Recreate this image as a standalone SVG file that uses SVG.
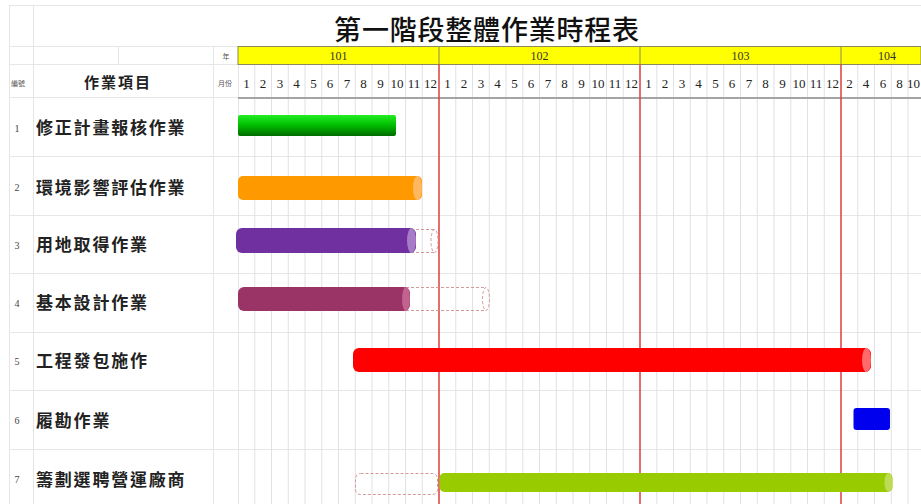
<svg xmlns="http://www.w3.org/2000/svg" width="921" height="504" viewBox="0 0 921 504">
<style>
.grid{stroke:#e0e0e8;stroke-width:1;fill:none}
.hl{stroke:#e6e6e6;stroke-width:1;fill:none}
.red{stroke:#d9403f;stroke-width:1.5;fill:none}
.mn{font-family:"Liberation Serif",serif;font-size:13px;fill:#222;text-anchor:middle}
.yr{font-family:"Liberation Serif",serif;font-size:12px;fill:#333;text-anchor:middle}
.sm{font-family:"Noto Sans CJK TC",sans-serif;font-size:7px;fill:#555;text-anchor:middle}
.num{font-family:"Liberation Serif",serif;font-size:10px;fill:#444;text-anchor:middle}
.lbl{font-family:"Noto Sans CJK TC",sans-serif;font-size:17px;font-weight:bold;letter-spacing:1.8px;fill:#222}
.dash{fill:none;stroke:#d49a9a;stroke-width:1;stroke-dasharray:3 2}
</style>
<defs>
<linearGradient id="g1" x1="0" y1="0" x2="0" y2="1">
<stop offset="0" stop-color="#22ee22"/>
<stop offset="0.5" stop-color="#00bb00"/>
<stop offset="1" stop-color="#006a00"/>
</linearGradient>
</defs>
<rect width="921" height="504" fill="#ffffff"/>
<g id="grid">
<path class="hl" d="M9 5.5H921M9 46.5H921M9 64.5H238M9 97.5H238M9 156.5H921M9 215.5H921M9 273.5H921M9 332.5H921M9 390.5H921M9 449.5H921"/>
<path class="hl" d="M9.5 5V504M33.5 5V504M118.5 46V64M213.5 46V504M238.5 46V504"/>
<path class="grid" d="M254.75 64V504M271.5 64V504M288.25 64V504M305 64V504M321.75 64V504M338.5 64V504M355.25 64V504M372 64V504M388.75 64V504M405.5 64V504M422.25 64V504M455.75 64V504M472.5 64V504M489.25 64V504M506 64V504M522.75 64V504M539.5 64V504M556.25 64V504M573 64V504M589.75 64V504M606.5 64V504M623.25 64V504M656.75 64V504M673.5 64V504M690.25 64V504M707 64V504M723.75 64V504M740.5 64V504M757.25 64V504M774 64V504M790.75 64V504M807.5 64V504M824.25 64V504M857.75 64V504M874.5 64V504M891.25 64V504M908 64V504"/>
</g>
<g id="title">
<text x="487" y="40" font-family="'Noto Sans CJK TC',sans-serif" font-size="27" font-weight="500" letter-spacing="0.8" text-anchor="middle" fill="#111">第一階段整體作業時程表</text>
</g>
<g id="year-row">
<rect x="238" y="46.5" width="683" height="18" fill="#ffff00" stroke="#8a8a5a" stroke-width="1"/>
<path d="M439 46.5V64.5M640 46.5V64.5M841 46.5V64.5" stroke="#8a8a5a" stroke-width="1"/>
<text class="sm" x="226" y="59">年</text>
<text class="yr" x="338.5" y="59.5">101</text>
<text class="yr" x="539.5" y="59.5">102</text>
<text class="yr" x="740.5" y="59.5">103</text>
<text class="yr" x="887" y="59.5">104</text>
</g>
<g id="month-row">
<text class="sm" x="18" y="86">編號</text>
<text x="118" y="88" font-family="'Noto Sans CJK TC',sans-serif" font-size="15" font-weight="bold" letter-spacing="2" text-anchor="middle" fill="#222">作業項目</text>
<text class="sm" x="225" y="86">月份</text>
<text class="mn" y="88"><tspan x="246.4">1</tspan><tspan x="263.1">2</tspan><tspan x="279.9">3</tspan><tspan x="296.6">4</tspan><tspan x="313.4">5</tspan><tspan x="330.1">6</tspan><tspan x="346.9">7</tspan><tspan x="363.6">8</tspan><tspan x="380.4">9</tspan><tspan x="397.1">10</tspan><tspan x="413.9">11</tspan><tspan x="430.6">12</tspan></text>
<text class="mn" y="88"><tspan x="447.4">1</tspan><tspan x="464.1">2</tspan><tspan x="480.9">3</tspan><tspan x="497.6">4</tspan><tspan x="514.4">5</tspan><tspan x="531.1">6</tspan><tspan x="547.9">7</tspan><tspan x="564.6">8</tspan><tspan x="581.4">9</tspan><tspan x="598.1">10</tspan><tspan x="614.9">11</tspan><tspan x="631.6">12</tspan></text>
<text class="mn" y="88"><tspan x="648.4">1</tspan><tspan x="665.1">2</tspan><tspan x="681.9">3</tspan><tspan x="698.6">4</tspan><tspan x="715.4">5</tspan><tspan x="732.1">6</tspan><tspan x="748.9">7</tspan><tspan x="765.6">8</tspan><tspan x="782.4">9</tspan><tspan x="799.1">10</tspan><tspan x="815.9">11</tspan><tspan x="832.6">12</tspan></text>
<text class="mn" y="88"><tspan x="849.4">2</tspan><tspan x="866.1">4</tspan><tspan x="882.9">6</tspan><tspan x="899.6">8</tspan><tspan x="913.5">10</tspan></text>
<path d="M238 98H921" stroke="#a4a4a4" stroke-width="2"/>
</g>
<g id="year-lines">
<path class="red" d="M439 64.5V504M640 64.5V504M841 64.5V504"/>
</g>
<g id="task1">
<text class="num" x="17" y="132">1</text>
<text class="lbl" x="36" y="134">修正計畫報核作業</text>
<rect x="238" y="115" width="158" height="21" rx="2" fill="url(#g1)"/>
</g>
<g id="task2">
<text class="num" x="17" y="191">2</text>
<text class="lbl" x="36" y="194">環境影響評估作業</text>
<rect x="238" y="176" width="184" height="24" rx="5" fill="#ff9900"/>
<ellipse cx="417.5" cy="188" rx="4.5" ry="12" fill="#ffb860"/>
</g>
<g id="task3">
<text class="num" x="17" y="249">3</text>
<text class="lbl" x="36" y="251">用地取得作業</text>
<path class="dash" d="M411 229.5H434.5M411 252.5H434.5"/>
<ellipse class="dash" cx="434.5" cy="241" rx="3.5" ry="11.5"/>
<rect x="236" y="228" width="180" height="25" rx="6" fill="#7030a0"/>
<ellipse cx="411.5" cy="240.5" rx="4.5" ry="12.5" fill="#a77cc6"/>
</g>
<g id="task4">
<text class="num" x="17" y="307">4</text>
<text class="lbl" x="36" y="309">基本設計作業</text>
<path class="dash" d="M406 287.5H486M406 310.5H486"/>
<ellipse class="dash" cx="486" cy="299" rx="3.5" ry="11.5"/>
<rect x="238" y="287" width="172" height="24" rx="6" fill="#9b3466"/>
<ellipse cx="406" cy="299" rx="4" ry="12" fill="#c2628f"/>
</g>
<g id="task5">
<text class="num" x="17" y="365">5</text>
<text class="lbl" x="36" y="367">工程發包施作</text>
<rect x="353" y="348" width="518" height="24" rx="6" fill="#ff0000"/>
<ellipse cx="866.5" cy="360" rx="4.5" ry="12" fill="#ff6a6a"/>
</g>
<g id="task6">
<text class="num" x="17" y="424">6</text>
<text class="lbl" x="36" y="427">履勘作業</text>
<rect x="853.5" y="408" width="36.5" height="22" rx="3" fill="#0000ee"/>
</g>
<g id="task7">
<text class="num" x="17" y="483">7</text>
<text class="lbl" x="36" y="486">籌劃選聘營運廠商</text>
<rect class="dash" x="355.5" y="473.5" width="82" height="21" rx="5"/>
<rect x="439.5" y="473" width="453" height="19" rx="5" fill="#99cc00"/>
<ellipse cx="888.5" cy="482.5" rx="4" ry="9.5" fill="#bcdc55"/>
</g>
</svg>
